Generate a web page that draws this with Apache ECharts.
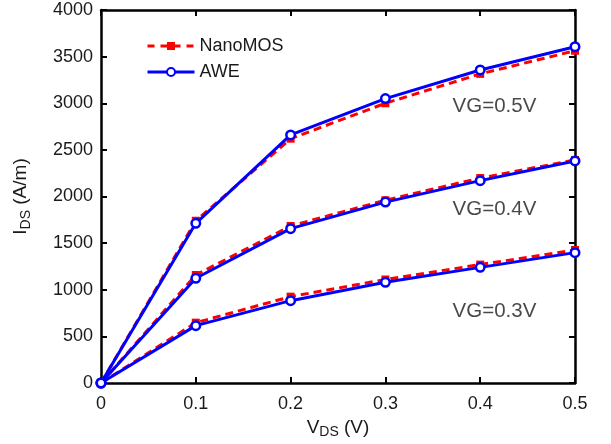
<!DOCTYPE html>
<html><head><meta charset="utf-8">
<script src="https://cdn.jsdelivr.net/npm/echarts@6/dist/echarts.min.js"></script>
<style>html,body{margin:0;padding:0;background:#fff}#c{width:611px;height:444px}</style>
</head><body><div id="c"></div>
<script>
const vds = [0, 0.1, 0.2, 0.3, 0.4, 0.5];
const nano_vg05 = [0, 1740, 2620, 3000, 3315, 3563];
const nano_vg04 = [0, 1158, 1684, 1960, 2198, 2392];
const nano_vg03 = [0, 647, 926, 1110, 1270, 1426];
const awe_vg05 = [0, 1712, 2660, 3050, 3357, 3606];
const awe_vg04 = [0, 1123, 1655, 1940, 2170, 2381];
const awe_vg03 = [0, 615, 883, 1080, 1240, 1398];
const yTicks = [0, 500, 1000, 1500, 2000, 2500, 3000, 3500, 4000];
const xTicks = [0, 0.1, 0.2, 0.3, 0.4, 0.5];
const labelText = ['VG=0.5V', 'VG=0.4V', 'VG=0.3V'];
const labelX = [0.415, 0.415, 0.415];
const labelY = [2970, 1865, 770];

const pair = (ys) => vds.map((x, i) => [x, ys[i]]);
const font = 'Liberation Sans, Arial, Helvetica, sans-serif';
const txt = '#1a1a1a';
const chart = echarts.init(document.getElementById('c'));

function nano(ys) {
  return { name: 'NanoMOS', type: 'line', data: pair(ys), symbol: 'rect', symbolSize: 8,
    itemStyle: { color: '#ff0000' }, lineStyle: { color: '#ff0000', width: 3, type: [8, 5] },
    z: 2, animation: false };
}
function awe(ys) {
  return { name: 'AWE', type: 'line', data: pair(ys), symbol: 'circle', symbolSize: 8.5,
    itemStyle: { color: '#ffffff', borderColor: '#0000ff', borderWidth: 2.5 },
    lineStyle: { color: '#0000ff', width: 3 }, z: 3, animation: false };
}
function axisCommon() {
  return {
    axisLine: { show: true, onZero: false, lineStyle: { color: '#000', width: 2.5 } },
    axisTick: { show: true, inside: true, length: 6, lineStyle: { color: '#000', width: 2 } },
    splitLine: { show: false },
  };
}

const series = [nano(nano_vg05), nano(nano_vg04), nano(nano_vg03), awe(awe_vg05), awe(awe_vg04), awe(awe_vg03)];
series.push({
  type: 'scatter', data: labelX.map((x, i) => [x, labelY[i]]), symbolSize: 0, silent: true,
  label: { show: true, position: 'inside', formatter: p => labelText[p.dataIndex],
    color: txt, fontSize: 20.5, fontFamily: font },
  z: 5
});
series.push({ type: 'line', xAxisIndex: 1, yAxisIndex: 1, data: [], silent: true });

chart.setOption({
  backgroundColor: '#fff',
  animation: false,
  grid: { left: 101, right: 36, top: 10, bottom: 61, containLabel: false, outerBoundsMode: 'none' },
  legend: {
    data: [
      { name: 'NanoMOS', lineStyle: { type: [7, 6], width: 3, color: '#ff0000' } },
      { name: 'AWE', lineStyle: { type: 'solid', width: 3, color: '#0000ff' } }
    ],
    orient: 'vertical', left: 141, top: 32,
    itemWidth: 47, itemHeight: 10, itemGap: 8,
    textStyle: { fontSize: 18, fontFamily: font, color: txt }
  },
  xAxis: [Object.assign(axisCommon(), {
    type: 'value', min: 0, max: 0.5, interval: 0.1, position: 'bottom',
    axisLabel: { fontSize: 18, fontFamily: font, color: txt, margin: 12,
      formatter: v => (Math.round(v * 10) / 10).toString() },
    name: '{a|V}{s|DS}{a| (V)}', nameLocation: 'middle', nameGap: 32,
    nameTextStyle: { rich: { a: { fontSize: 19, fontFamily: font, color: txt },
      s: { fontSize: 14, fontFamily: font, color: txt, verticalAlign: 'bottom', padding: [10, 0, 0, 0] } } }
  }), Object.assign(axisCommon(), {
    type: 'value', min: 0, max: 0.5, interval: 0.1, position: 'top',
    axisLabel: { show: false }
  })],
  yAxis: [Object.assign(axisCommon(), {
    type: 'value', min: 0, max: 4000, interval: 500, position: 'left',
    axisLabel: { fontSize: 18, fontFamily: font, color: txt, margin: 8, formatter: v => String(v) },
    name: '{a|I}{s|DS}{a| (A/m)}', nameLocation: 'middle', nameGap: 68, nameRotate: 90,
    nameTextStyle: { rich: { a: { fontSize: 19, fontFamily: font, color: txt },
      s: { fontSize: 14, fontFamily: font, color: txt, verticalAlign: 'bottom', padding: [10, 0, 0, 0] } } }
  }), Object.assign(axisCommon(), {
    type: 'value', min: 0, max: 4000, interval: 500, position: 'right',
    axisLabel: { show: false }
  })],
  series: series
});
</script></body></html>
